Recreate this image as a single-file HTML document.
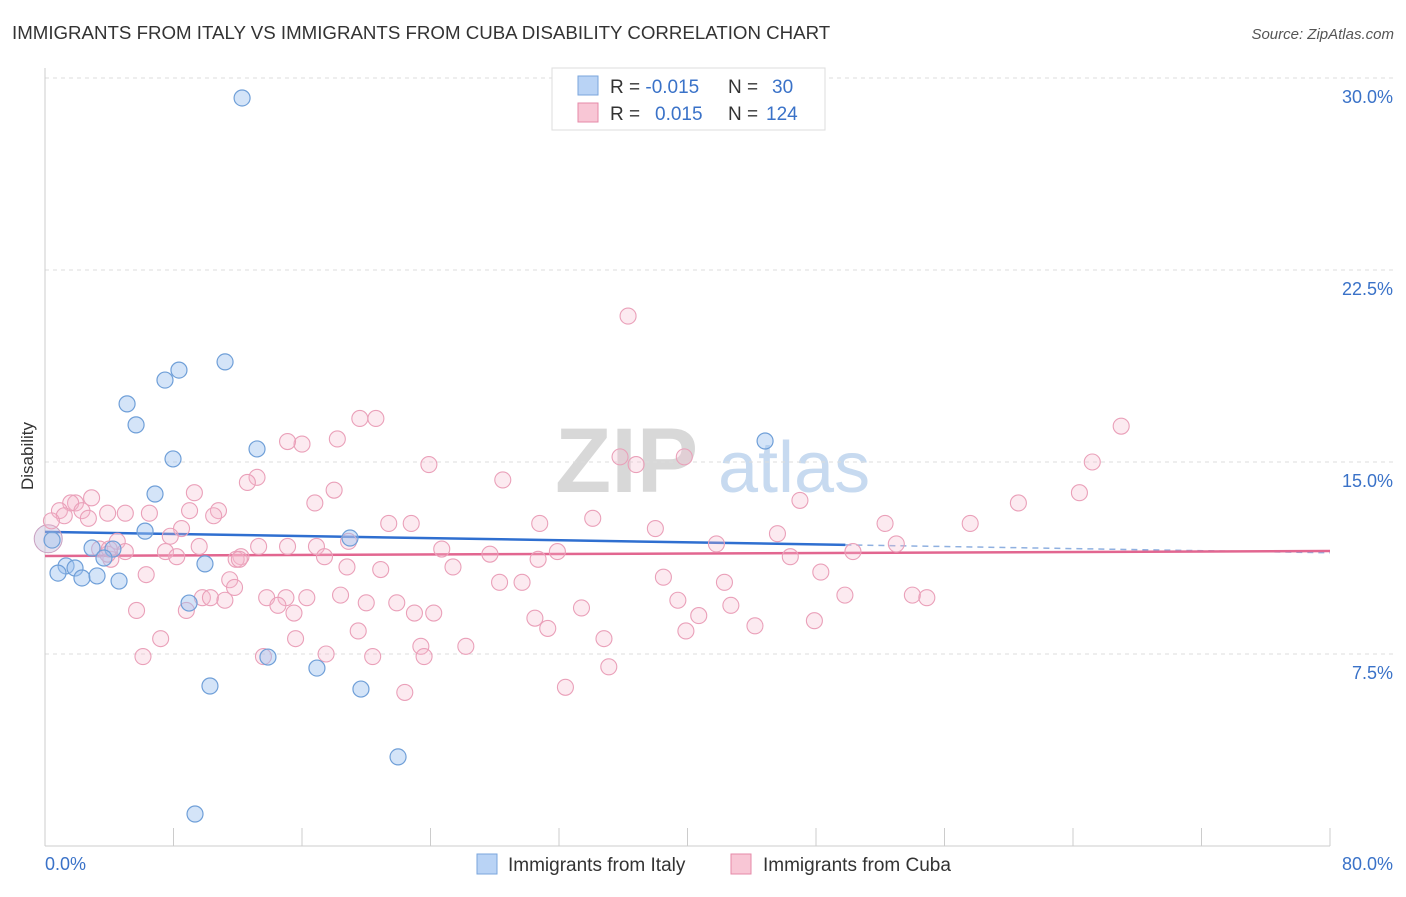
<!DOCTYPE html>
<html><head><meta charset="utf-8"><style>
body{margin:0;background:#fff;font-family:"Liberation Sans",sans-serif;}
svg text{font-family:"Liberation Sans",sans-serif;}
</style></head><body>
<svg id="chart" width="1406" height="892" viewBox="0 0 1406 892">
<text x="12" y="39" font-size="18.7" fill="#333">IMMIGRANTS FROM ITALY VS IMMIGRANTS FROM CUBA DISABILITY CORRELATION CHART</text>
<text x="1394" y="39" font-size="15" fill="#555" font-style="italic" text-anchor="end">Source: ZipAtlas.com</text>
<g>
<text x="555" y="492" font-size="92" fill="#d8d8d8" font-family="Liberation Serif,serif" font-weight="bold">ZIP</text>
<text x="718" y="492" font-size="72" fill="#c7daf0">atlas</text>
</g>
<g id="grid"></g>
<g id="axes"></g>
<g id="trend"></g>
<g id="points"></g>
<text x="33" y="456" font-size="17" fill="#333" text-anchor="middle" transform="rotate(-90 33 456)">Disability</text>
<g>
<rect x="552" y="68" width="273" height="62" fill="#fff" stroke="#ddd"/>
<rect x="578" y="76" width="20" height="19" fill="#b9d3f5" stroke="#7aa6dc"/>
<rect x="578" y="103" width="20" height="19" fill="#f8c6d5" stroke="#e68aa8"/>
<text x="610" y="93" font-size="19" fill="#333">R = <tspan fill="#3a72c8">-0.015</tspan><tspan x="728">N = </tspan><tspan x="772" fill="#3a72c8">30</tspan></text>
<text x="610" y="120" font-size="19" fill="#333">R = <tspan x="655" fill="#3a72c8">0.015</tspan><tspan x="728">N = </tspan><tspan x="766" fill="#3a72c8">124</tspan></text>
</g>
<g>
<rect x="477" y="854" width="20" height="20" fill="#b9d3f5" stroke="#7aa6dc"/>
<text x="508" y="871" font-size="19" fill="#333">Immigrants from Italy</text>
<rect x="731" y="854" width="20" height="20" fill="#f8c6d5" stroke="#e68aa8"/>
<text x="763" y="871" font-size="19" fill="#333">Immigrants from Cuba</text>
</g>
</svg>
<script>
const yTicks=[7.5,15,22.5,30];
const yTickLabels=["7.5%","15.0%","22.5%","30.0%"];
const xTickLabels=["0.0%","80.0%"];
const italyX=[12.27,11.21,8.34,7.47,5.11,5.67,7.97,13.2,44.83,6.85,6.23,18.99,0.44,2.93,1.31,1.87,0.81,2.3,3.24,4.61,4.23,3.67,9.96,8.97,13.88,16.93,10.27,19.67,21.98,9.34];
const italyY=[29.22,18.91,18.59,18.2,17.27,16.45,15.12,15.51,15.82,13.75,12.3,12.03,11.95,11.64,10.94,10.86,10.66,10.47,10.55,10.35,11.6,11.25,11.02,9.49,7.38,6.95,6.25,6.13,3.48,1.25];
const cubaX=[36.3,67.0,20.6,19.6,18.2,16.0,15.1,13.2,12.6,23.9,65.2,39.8,36.8,35.8,28.5,9.3,2.9,1.9,1.6,0.9,2.3,3.9,5.0,6.5,9.0,10.8,10.5,1.2,2.7,18.0,16.8,47.0,60.6,64.4,21.4,22.8,30.8,34.1,38.0,52.3,57.6,8.5,7.8,4.5,3.4,5.0,4.1,7.5,8.2,9.6,12.2,11.9,13.3,15.1,16.9,17.4,18.9,24.7,27.7,30.7,31.9,41.8,45.6,46.4,50.3,53.0,6.3,11.5,11.8,18.8,20.9,25.4,28.3,29.7,38.5,42.3,48.3,5.7,8.8,9.8,10.3,11.2,13.8,15.0,16.3,14.5,15.5,18.4,20.0,21.9,23.0,24.2,30.5,31.3,33.4,39.4,40.7,42.7,49.8,54.0,54.9,7.2,15.6,19.5,23.4,26.2,34.8,39.9,44.2,47.9,6.1,13.6,17.5,20.4,23.6,35.1,32.4,22.4,0.4,12.1,3.9,4.0];
const cubaY=[20.7,16.4,16.7,16.7,15.9,15.7,15.8,14.4,14.2,14.9,15.0,15.2,14.9,15.2,14.3,13.8,13.6,13.4,13.4,13.1,13.1,13.0,13.0,13.0,13.1,13.1,12.9,12.9,12.8,13.9,13.4,13.5,13.4,13.8,12.6,12.6,12.6,12.8,12.4,12.6,12.6,12.4,12.1,11.9,11.6,11.5,11.2,11.5,11.3,11.7,11.3,11.2,11.7,11.7,11.7,11.3,11.9,11.6,11.4,11.2,11.5,11.8,12.2,11.3,11.5,11.8,10.6,10.4,10.1,10.9,10.8,10.9,10.3,10.3,10.5,10.3,10.7,9.2,9.2,9.7,9.7,9.6,9.7,9.7,9.7,9.4,9.1,9.8,9.5,9.5,9.1,9.1,8.9,8.5,9.3,9.6,9.0,9.4,9.8,9.8,9.7,8.1,8.1,8.4,7.8,7.8,8.1,8.4,8.6,8.8,7.4,7.4,7.5,7.4,7.4,7.0,6.2,6.0,12.7,11.2,11.4,11.6];
const italyTrend=[12.27,-0.0102];
const cubaTrend=[11.33,0.0024];
const X0=45,X1=1330,Y0=846,PXY=25.6;
const sx=v=>X0+v/80*(X1-X0), sy=v=>Y0-v*PXY;
const NS="http://www.w3.org/2000/svg";
function mk(t,a,p){const e=document.createElementNS(NS,t);for(const k in a)e.setAttribute(k,a[k]);p.appendChild(e);return e;}
const grid=document.getElementById('grid'),axes=document.getElementById('axes'),pts=document.getElementById('points'),tr=document.getElementById('trend');
mk('line',{x1:X0,x2:1394,y1:78,y2:78,stroke:'#ddd','stroke-dasharray':'4,4'},grid);
yTicks.forEach((v,i)=>{
 const l=mk('line',{x1:X0,x2:1394,y1:sy(v),y2:sy(v),stroke:'#ddd','stroke-dasharray':'4,4'},grid);
 
 
 const t=mk('text',{x:1393,y:sy(v)+25,'font-size':18,fill:'#3a72c8','text-anchor':'end'},axes);
 t.textContent=yTickLabels[i];
 
 
});
mk('line',{x1:X0,x2:X0,y1:68,y2:Y0,stroke:'#ccc'},axes);
mk('line',{x1:X0,x2:X1,y1:Y0,y2:Y0,stroke:'#ccc'},axes);
for(let i=0;i<=10;i++){const x=sx(i*8);const l=mk('line',{x1:x,x2:x,y1:828,y2:Y0,stroke:'#ccc'},axes);
 
 }
const xl0=mk('text',{x:45,y:870,'font-size':18,fill:'#3a72c8'},axes);xl0.textContent=xTickLabels[0];


const xl1=mk('text',{x:1393,y:870,'font-size':18,fill:'#3a72c8','text-anchor':'end'},axes);xl1.textContent=xTickLabels[1];


const it=x=>italyTrend[0]+italyTrend[1]*x, ct=x=>cubaTrend[0]+cubaTrend[1]*x;
const maxIt=Math.max(...italyX);
const t1=mk('line',{x1:sx(0),y1:sy(it(0)),x2:sx(maxIt+5),y2:sy(it(maxIt+5)),stroke:'#2f6fd0','stroke-width':2.5},tr);


const t2=mk('line',{x1:sx(maxIt+5),y1:sy(it(maxIt+5)),x2:sx(80),y2:sy(it(80)),stroke:'#8fb0e0','stroke-width':1.5,'stroke-dasharray':'6,5'},tr);


const t3=mk('line',{x1:sx(0),y1:sy(ct(0)),x2:sx(80),y2:sy(ct(80)),stroke:'#e26690','stroke-width':2.5},tr);


const big=mk('circle',{cx:sx(0.2),cy:sy(12.0),r:14,fill:'rgba(200,190,220,0.45)',stroke:'#c9a0c0'},pts);


cubaX.forEach((v,i)=>{const c=mk('circle',{cx:sx(v),cy:sy(cubaY[i]),r:8,fill:'rgba(246,185,205,0.3)',stroke:'#eaa0b9','stroke-width':1.1},pts);
 
 });
italyX.forEach((v,i)=>{const c=mk('circle',{cx:sx(v),cy:sy(italyY[i]),r:8,fill:'rgba(160,195,240,0.45)',stroke:'#6f9fd8','stroke-width':1.2},pts);
 
 });
</script>
</body></html>
